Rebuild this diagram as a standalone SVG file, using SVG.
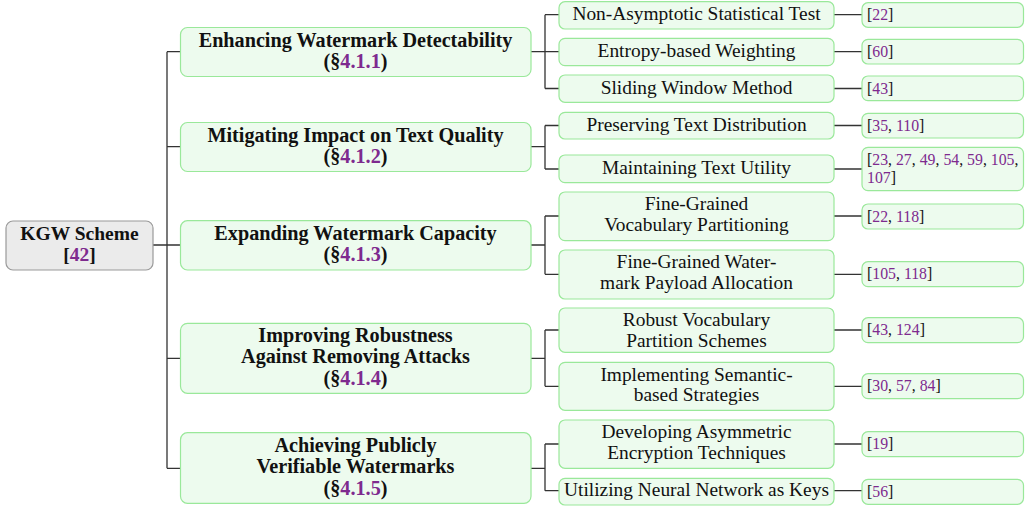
<svg xmlns="http://www.w3.org/2000/svg" width="1027" height="510" viewBox="0 0 1027 510">
<style>
text{font-family:"Liberation Serif","Times New Roman",serif;fill:#111;}
.b{font-weight:bold;font-size:20.2px;text-anchor:middle;}
.root .b{font-size:19.5px;}
.n{font-size:19.4px;text-anchor:middle;}
.r{font-size:15.8px;}
.p{fill:#7e2a8e;}
.g rect{fill:#edfbee;stroke:#9ae89a;stroke-width:1.2;}
.root rect{fill:#ebebeb;stroke:#9a9a9a;stroke-width:1.2;}
.c path{fill:none;stroke:#333;stroke-width:1.3;}
</style>
<g class="c" id="connectors">
<path d="M153 245H167M167 51.7V468.3M167 51.7H180M167 146.7H180M167 245H180M167 358.3H180M167 468.3H180"/>
<path d="M531 51.7H545M545 14.7V88.5M545 14.7H559M545 51.7H559M545 88.5H559"/>
<path d="M531 146.7H545M545 125.5V169M545 125.5H559M545 169H559"/>
<path d="M531 245H545M545 216V274.3M545 216H559M545 274.3H559"/>
<path d="M531 358.3H545M545 330V386.3M545 330H559M545 386.3H559"/>
<path d="M531 468.3H545M545 444V490.7M545 444H559M545 490.7H559"/>
<path d="M834 14.7H862M834 51.7H862M834 88.5H862M834 125.5H862M834 169H862M834 216H862M834 274.3H862M834 330H862M834 386.3H862M834 444H862M834 490.7H862"/>
</g>
<g id="root" class="root"><rect x="6" y="221" width="147" height="49" rx="7"/>
<text class="b" x="79.5" y="239.5">KGW Scheme</text>
<text class="b" x="79.5" y="261">[<tspan class="p">42</tspan>]</text></g>

<g id="l1-1" class="g"><rect x="180.5" y="27.5" width="350.5" height="49" rx="7"/>
<text class="b" x="355.5" y="46.7">Enhancing Watermark Detectability</text>
<text class="b" x="355.5" y="68">(§<tspan class="p">4.1.1</tspan>)</text></g>
<g id="l1-2" class="g"><rect x="180.5" y="122.5" width="350.5" height="49" rx="7"/>
<text class="b" x="355.5" y="141.7">Mitigating Impact on Text Quality</text>
<text class="b" x="355.5" y="163.3">(§<tspan class="p">4.1.2</tspan>)</text></g>
<g id="l1-3" class="g"><rect x="180.5" y="220.7" width="350.5" height="49.3" rx="7"/>
<text class="b" x="355.5" y="239.5">Expanding Watermark Capacity</text>
<text class="b" x="355.5" y="261">(§<tspan class="p">4.1.3</tspan>)</text></g>
<g id="l1-4" class="g"><rect x="180.5" y="323.3" width="350.5" height="70" rx="7"/>
<text class="b" x="355.5" y="341.7">Improving Robustness</text>
<text class="b" x="355.5" y="363.3">Against Removing Attacks</text>
<text class="b" x="355.5" y="384.5">(§<tspan class="p">4.1.4</tspan>)</text></g>
<g id="l1-5" class="g"><rect x="180.5" y="432.7" width="350.5" height="70.6" rx="7"/>
<text class="b" x="355.5" y="452.3">Achieving Publicly</text>
<text class="b" x="355.5" y="473">Verifiable Watermarks</text>
<text class="b" x="355.5" y="494.5">(§<tspan class="p">4.1.5</tspan>)</text></g>

<g id="l2-1" class="g"><rect x="559" y="1.7" width="275" height="27.3" rx="6"/><text class="n" x="696.5" y="20">Non-Asymptotic Statistical Test</text></g>
<g id="l2-2" class="g"><rect x="559" y="38.3" width="275" height="27.4" rx="6"/><text class="n" x="696.5" y="57">Entropy-based Weighting</text></g>
<g id="l2-3" class="g"><rect x="559" y="75" width="275" height="27.3" rx="6"/><text class="n" x="696.5" y="93.5">Sliding Window Method</text></g>
<g id="l2-4" class="g"><rect x="559" y="112.3" width="275" height="26.7" rx="6"/><text class="n" x="696.5" y="130.5">Preserving Text Distribution</text></g>
<g id="l2-5" class="g"><rect x="559" y="155" width="275" height="27.7" rx="6"/><text class="n" x="696.5" y="173.5">Maintaining Text Utility</text></g>
<g id="l2-6" class="g"><rect x="559" y="192" width="275" height="48.7" rx="6"/><text class="n" x="696.5" y="209.5">Fine-Grained</text><text class="n" x="696.5" y="230.7">Vocabulary Partitioning</text></g>
<g id="l2-7" class="g"><rect x="559" y="250" width="275" height="49" rx="6"/><text class="n" x="696.5" y="267.7">Fine-Grained Water-</text><text class="n" x="696.5" y="289">mark Payload Allocation</text></g>
<g id="l2-8" class="g"><rect x="559" y="308" width="275" height="44.3" rx="6"/><text class="n" x="696.5" y="326">Robust Vocabulary</text><text class="n" x="696.5" y="346.7">Partition Schemes</text></g>
<g id="l2-9" class="g"><rect x="559" y="362.3" width="275" height="48" rx="6"/><text class="n" x="696.5" y="380.7">Implementing Semantic-</text><text class="n" x="696.5" y="401">based Strategies</text></g>
<g id="l2-10" class="g"><rect x="559" y="420" width="275" height="48.3" rx="6"/><text class="n" x="696.5" y="437.7">Developing Asymmetric</text><text class="n" x="696.5" y="459">Encryption Techniques</text></g>
<g id="l2-11" class="g"><rect x="559" y="478.3" width="275" height="26.7" rx="6"/><text class="n" x="696.5" y="496">Utilizing Neural Network as Keys</text></g>

<g id="ref-1" class="g"><rect x="862" y="2.7" width="161.5" height="24.6" rx="6"/><text class="r" x="867" y="20.3">[<tspan class="p">22</tspan>]</text></g>
<g id="ref-2" class="g"><rect x="862" y="39.3" width="161.5" height="24.7" rx="6"/><text class="r" x="867" y="57">[<tspan class="p">60</tspan>]</text></g>
<g id="ref-3" class="g"><rect x="862" y="76" width="161.5" height="24.7" rx="6"/><text class="r" x="867" y="93.5">[<tspan class="p">43</tspan>]</text></g>
<g id="ref-4" class="g"><rect x="862" y="113.3" width="161.5" height="24.7" rx="6"/><text class="r" x="867" y="130.8">[<tspan class="p">35</tspan>, <tspan class="p">110</tspan>]</text></g>
<g id="ref-5" class="g"><rect x="862" y="147.3" width="161.5" height="43.4" rx="6"/><text class="r" x="867" y="165">[<tspan class="p">23</tspan>, <tspan class="p">27</tspan>, <tspan class="p">49</tspan>, <tspan class="p">54</tspan>, <tspan class="p">59</tspan>, <tspan class="p">105</tspan>,</text><text class="r" x="867" y="182.5"><tspan class="p">107</tspan>]</text></g>
<g id="ref-6" class="g"><rect x="862" y="204" width="161.5" height="25" rx="6"/><text class="r" x="867" y="221.5">[<tspan class="p">22</tspan>, <tspan class="p">118</tspan>]</text></g>
<g id="ref-7" class="g"><rect x="862" y="261.7" width="161.5" height="25" rx="6"/><text class="r" x="867" y="279.2">[<tspan class="p">105</tspan>, <tspan class="p">118</tspan>]</text></g>
<g id="ref-8" class="g"><rect x="862" y="317.7" width="161.5" height="25" rx="6"/><text class="r" x="867" y="335.2">[<tspan class="p">43</tspan>, <tspan class="p">124</tspan>]</text></g>
<g id="ref-9" class="g"><rect x="862" y="373.7" width="161.5" height="25" rx="6"/><text class="r" x="867" y="391.2">[<tspan class="p">30</tspan>, <tspan class="p">57</tspan>, <tspan class="p">84</tspan>]</text></g>
<g id="ref-10" class="g"><rect x="862" y="431.7" width="161.5" height="25" rx="6"/><text class="r" x="867" y="449.2">[<tspan class="p">19</tspan>]</text></g>
<g id="ref-11" class="g"><rect x="862" y="479.3" width="161.5" height="25" rx="6"/><text class="r" x="867" y="496.8">[<tspan class="p">56</tspan>]</text></g>
</svg>
